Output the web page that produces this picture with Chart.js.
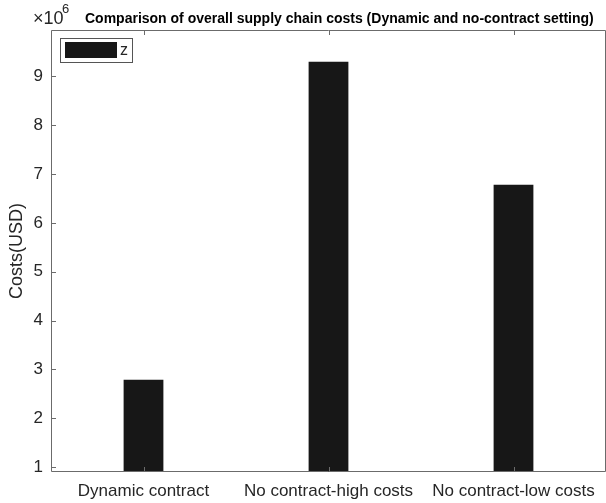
<!DOCTYPE html>
<html>
<head>
<meta charset="utf-8">
<script src="https://cdn.jsdelivr.net/npm/chart.js@4"></script>
<style>
  html, body { margin: 0; padding: 0; background: #fff; }
  #wrap { width: 606px; height: 503px; }
</style>
</head>
<body>
<div id="wrap"><canvas id="costChart" width="606" height="503"></canvas></div>
<script>
const categories = ['Dynamic contract', 'No contract-high costs', 'No contract-low costs'];
const costs = [2.79, 9.30, 6.78]; // x 10^6 USD
const yTicks = [1, 2, 3, 4, 5, 6, 7, 8, 9];
const seriesName = 'z';

const axisColor = '#6b6b6b';
const textColor = '#262626';
const fontFam = '"Liberation Sans", Arial, Helvetica, sans-serif';

// box, inside ticks, legend, title and exponent (MATLAB look)
const matlabFrame = {
    id: 'matlabFrame',
    afterDraw(chart) {
        const ctx = chart.ctx;
        const a = chart.chartArea;
        const xs = chart.scales.x;
        const ys = chart.scales.y;
        ctx.save();
        ctx.strokeStyle = axisColor;
        ctx.lineWidth = 1;
        ctx.beginPath();
        ctx.rect(a.left + 0.5, a.top + 0.5, a.right - a.left - 1, a.bottom - a.top - 1);
        ctx.stroke();

        // tick marks inside
        ctx.beginPath();
        yTicks.forEach(function(v) {
            const y = Math.round(ys.getPixelForValue(v)) + 0.5;
            ctx.moveTo(a.left, y); ctx.lineTo(a.left + 5, y);
        });
        categories.forEach(function(c, i) {
            const x = Math.round(xs.getPixelForValue(i)) + 0.5;
            ctx.moveTo(x, a.bottom); ctx.lineTo(x, a.bottom - 5);
            ctx.moveTo(x, a.top); ctx.lineTo(x, a.top + 5);
        });
        ctx.stroke();

        // legend
        ctx.fillStyle = '#fff';
        ctx.fillRect(a.left + 9, a.top + 8, 73, 25);
        ctx.strokeStyle = '#555';
        ctx.strokeRect(a.left + 9.5, a.top + 8.5, 72, 24);
        ctx.fillStyle = '#171717';
        ctx.fillRect(a.left + 14, a.top + 12, 52, 16);
        ctx.fillStyle = textColor;
        ctx.font = '16px ' + fontFam;
        ctx.textBaseline = 'middle';
        ctx.textAlign = 'left';
        ctx.fillText(seriesName, a.left + 69, a.top + 21);

        // exponent
        ctx.font = '18px ' + fontFam;
        ctx.textBaseline = 'alphabetic';
        ctx.fillText('\u00d710', 33, 24);
        ctx.font = '13px ' + fontFam;
        ctx.fillText('6', 62, 13);

        // title
        ctx.font = 'bold 14px ' + fontFam;
        ctx.fillStyle = '#000';
        ctx.fillText('Comparison of overall supply chain costs (Dynamic and no-contract setting)', 85, 23);
        ctx.restore();
    }
};

new Chart(document.getElementById('costChart'), {
    type: 'bar',
    data: {
        labels: categories,
        datasets: [{
            label: seriesName,
            data: costs,
            backgroundColor: '#171717',
            borderWidth: 0,
            barPercentage: 0.215,
            categoryPercentage: 1
        }]
    },
    options: {
        responsive: false,
        animation: false,
        layout: { padding: { top: 30, right: 0, left: 0, bottom: 0 } },
        plugins: {
            legend: { display: false },
            tooltip: { enabled: false }
        },
        scales: {
            x: {
                offset: true,
                grid: { display: false, drawTicks: false },
                border: { display: false },
                ticks: {
                    color: textColor,
                    font: { family: fontFam, size: 17 },
                    padding: 9,
                    maxRotation: 0,
                    autoSkip: false
                },
                afterFit: function(s) { s.height = 31; }
            },
            y: {
                min: 0.9,
                max: 9.95,
                grid: { display: false, drawTicks: false },
                border: { display: false },
                ticks: {
                    stepSize: 1,
                    includeBounds: false,
                    color: textColor,
                    font: { family: fontFam, size: 17 },
                    padding: 8
                },
                afterBuildTicks: function(s) {
                    s.ticks = yTicks.map(function(v) { return { value: v }; });
                },
                title: {
                    display: true,
                    text: 'Costs(USD)',
                    color: textColor,
                    font: { family: fontFam, size: 18 },
                    padding: { top: 6, bottom: 0 }
                },
                afterFit: function(s) { s.width = 51; }
            }
        }
    },
    plugins: [matlabFrame]
});
</script>
</body>
</html>
